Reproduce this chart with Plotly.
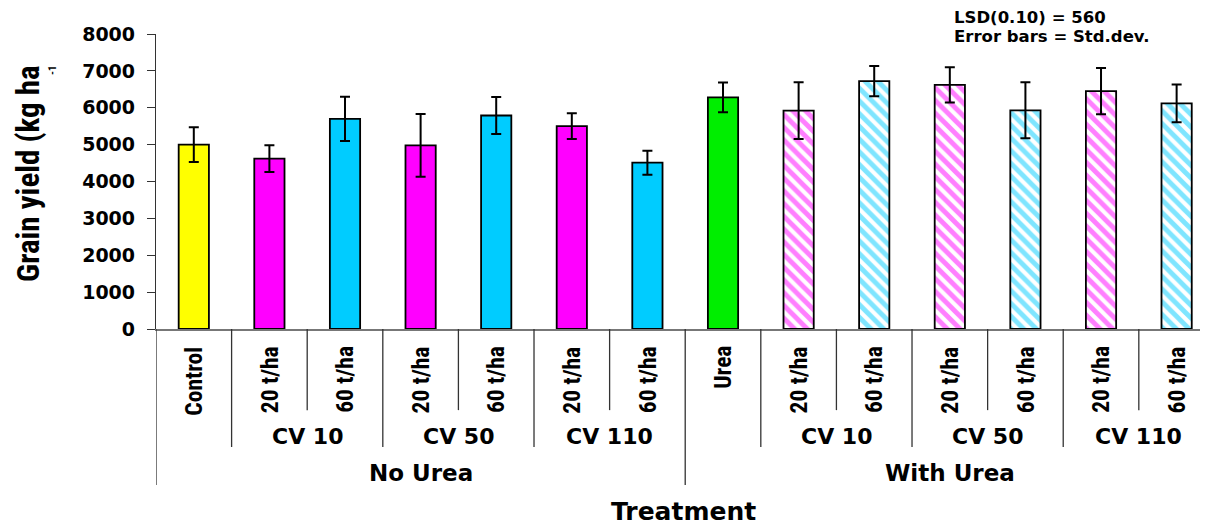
import plotly.graph_objects as go

# ---- data ----
categories = ["Control", "20 t/ha", "60 t/ha", "20 t/ha", "60 t/ha", "20 t/ha", "60 t/ha",
              "Urea", "20 t/ha", "60 t/ha", "20 t/ha", "60 t/ha", "20 t/ha", "60 t/ha"]
yield_kg = [5000, 4620, 5700, 4980, 5790, 5500, 4510,
            6280, 5920, 6720, 6620, 5930, 6450, 6120]
std_dev = [470, 360, 600, 850, 500, 350, 325,
           405, 770, 410, 480, 760, 625, 510]
groups = ["CV 10", "CV 50", "CV 110", "CV 10", "CV 50", "CV 110"]
main_groups = ["No Urea", "With Urea"]
notes = ["LSD(0.10) = 560", "Error bars = Std.dev."]
y_ticks = [0, 1000, 2000, 3000, 4000, 5000, 6000, 7000, 8000]

# ---- styles ----
YELLOW, MAGENTA, CYAN, GREEN = "#FFFF00", "#FF00FF", "#00CCFF", "#00EE00"
solid_idx = [0, 1, 2, 3, 4, 5, 6, 7]
solid_col = [YELLOW, MAGENTA, CYAN, MAGENTA, CYAN, MAGENTA, CYAN, GREEN]
hatch_sets = [([8, 10, 12], MAGENTA), ([9, 11, 13], CYAN)]

fig = go.Figure()
err = dict(type="data", visible=True, color="black", thickness=2, width=5)
fig.add_trace(go.Bar(
    x=solid_idx, y=[yield_kg[i] for i in solid_idx], width=0.4,
    marker=dict(color=solid_col, line=dict(color="black", width=1.8)),
    error_y=dict(array=[std_dev[i] for i in solid_idx], **err),
    showlegend=False,
))
for idx, col in hatch_sets:
    fig.add_trace(go.Bar(
        x=idx, y=[yield_kg[i] for i in idx], width=0.4,
        marker=dict(color="white", line=dict(color="black", width=1.8),
                    pattern=dict(shape="\\", fgcolor=col, bgcolor="white",
                                 fillmode="overlay", size=9, solidity=0.55)),
        error_y=dict(array=[std_dev[i] for i in idx], **err),
        showlegend=False,
    ))

NARROW = "Roboto Condensed, Liberation Sans Narrow, DejaVu Sans Condensed, Roboto, sans-serif"
WIDE = "DejaVu Sans, Verdana, sans-serif"

ann = []
# category labels (rotated)
for i, c in enumerate(categories):
    ann.append(dict(x=i, y=-0.052, xref="x", yref="paper", text=f"<b>{c}</b>",
                    textangle=-90, showarrow=False, xanchor="center", yanchor="top",
                    font=dict(family=NARROW, size=23.5, color="black")))
# sub-group labels
group_centers = [1.5, 3.5, 5.5, 8.5, 10.5, 12.5]
for g, xc in zip(groups, group_centers):
    ann.append(dict(x=xc, y=-0.363, xref="x", yref="paper", text=f"<b>{g}</b>",
                    showarrow=False, xanchor="center", yanchor="middle",
                    font=dict(family=WIDE, size=22, color="black")))
for g, xc in zip(main_groups, [3.0, 10.0]):
    ann.append(dict(x=xc, y=-0.488, xref="x", yref="paper", text=f"<b>{g}</b>",
                    showarrow=False, xanchor="center", yanchor="middle",
                    font=dict(family=WIDE, size=23, color="black")))
# x title
ann.append(dict(x=(683.5 - 156) / 1052, y=(329 - 511) / 295, xref="paper", yref="paper",
                text="<b>Treatment</b>", showarrow=False, xanchor="center", yanchor="middle",
                font=dict(family=WIDE, size=25, color="black")))
# y title
ann.append(dict(x=(28 - 156) / 1052, y=(329 - 174) / 295, xref="paper", yref="paper",
                text="<b>Grain yield (kg ha</b>", textangle=-90, showarrow=False,
                xanchor="center", yanchor="middle",
                font=dict(family=NARROW, size=31, color="black")))
ann.append(dict(x=(53 - 156) / 1052, y=(329 - 70) / 295, xref="paper", yref="paper",
                text="<b>-1</b>", textangle=-90, showarrow=False,
                xanchor="center", yanchor="middle",
                font=dict(family=NARROW, size=11, color="black")))
# LSD notes
for t, ypix in zip(notes, [17, 37]):
    ann.append(dict(x=(952 - 156) / 1052, y=(329 - ypix) / 295, xref="paper", yref="paper",
                    text=f"<b>{t}</b>", showarrow=False, xanchor="left", yanchor="middle",
                    align="left", font=dict(family=WIDE, size=16.5, color="black")))

shapes = []
short_b = [1.5, 3.5, 5.5, 8.5, 10.5, 12.5]
group_b = [0.5, 2.5, 4.5, 7.5, 9.5, 11.5]
major_b = [-0.5, 6.5, 13.5]
for xs, yb in ((short_b, -0.275), (group_b, -0.4), (major_b, -0.529)):
    for xb in xs:
        shapes.append(dict(type="line", xref="x", yref="paper", x0=xb, x1=xb,
                           y0=0, y1=yb, line=dict(color="#333", width=1.3)))

# page body has an 8px margin: figure is 1200x517 so it fills the 1208x525 window
fig.update_layout(
    width=1200, height=517,
    margin=dict(l=148, r=0, t=26, b=196),
    paper_bgcolor="white", plot_bgcolor="white",
    annotations=ann, shapes=shapes,
    barmode="overlay",
    xaxis=dict(range=[-0.5, 13.415], showticklabels=False, showgrid=False,
               zeroline=False, showline=True, linecolor="#777", linewidth=1.5,
               ticks=""),
    yaxis=dict(range=[0, 8000], tickvals=y_ticks, showgrid=False, zeroline=False,
               showline=True, linecolor="#333", linewidth=1.3,
               ticks="outside", ticklen=8, tickcolor="#333", tickwidth=1.2,
               ticklabelstandoff=8,
               tickfont=dict(family=WIDE, size=19, color="black", weight="bold")),
)

fig.write_html("out.html")
